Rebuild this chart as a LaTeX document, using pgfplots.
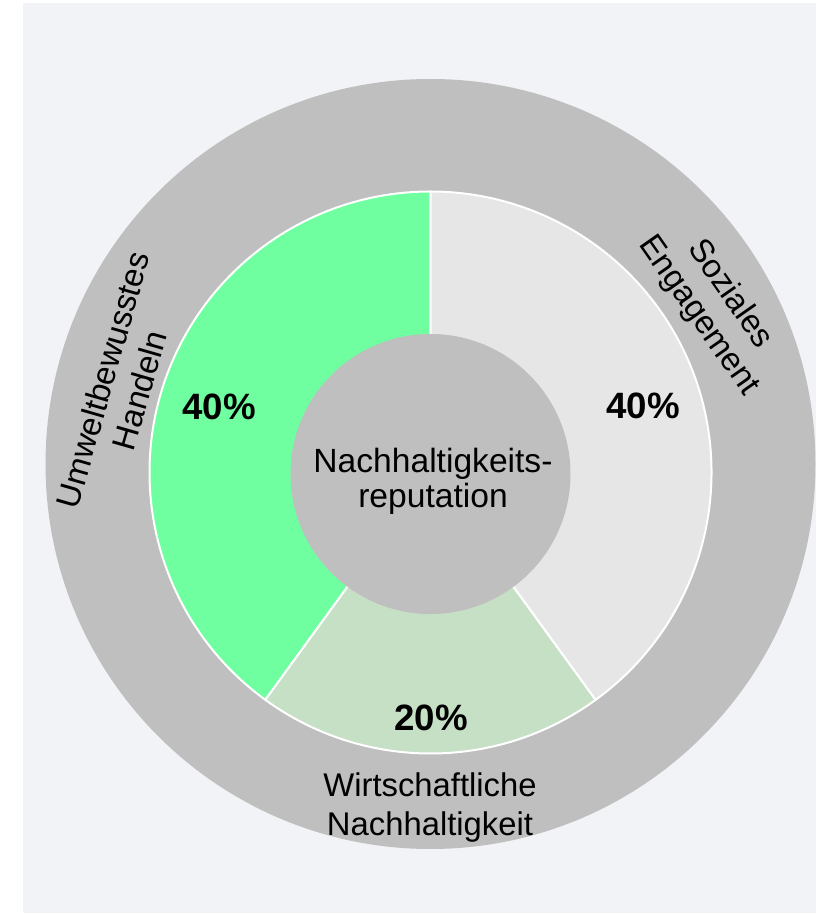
\documentclass[border=0pt]{standalone}
\usepackage{pgfplots}
\pgfplotsset{compat=1.18}
\usepackage{pgfplotstable}
\usepackage{fontspec}
\setmainfont{Liberation Sans}
\definecolor{bgc}{HTML}{F2F3F7}
\definecolor{ringc}{HTML}{BFBFBF}
\definecolor{cgreen}{HTML}{70FFA0}
\definecolor{clgreen}{HTML}{C6E0C6}
\definecolor{cgray}{HTML}{E6E6E6}

\pgfplotstableread{
segment value
Umwelt 40
Wirtschaft 20
Sozial 40
}\piedata

\begin{document}
\begin{tikzpicture}
\pgfplotstablegetelem{0}{value}\of\piedata \pgfmathsetmacro{\va}{\pgfplotsretval}
\pgfplotstablegetelem{1}{value}\of\piedata \pgfmathsetmacro{\vb}{\pgfplotsretval}
\pgfplotstablegetelem{2}{value}\of\piedata \pgfmathsetmacro{\vc}{\pgfplotsretval}
\pgfmathsetmacro{\tot}{\va+\vb+\vc}
\pgfmathsetmacro{\aA}{90}
\pgfmathsetmacro{\aB}{\aA+360*\va/\tot}
\pgfmathsetmacro{\aC}{\aB+360*\vb/\tot}
\pgfmathsetmacro{\aD}{\aC+360*\vc/\tot}
\def\cx{430.5}\def\cy{442.5}
\def\rin{281}
\pgfmathsetmacro{\rpt}{\rin*0.75}
\begin{axis}[width=612pt,height=686.25pt,scale only axis,
  xmin=0,xmax=816,ymin=0,ymax=915,hide axis,clip=false]
\fill[white] (axis cs:0,0) rectangle (axis cs:816,915);
\fill[bgc] (axis cs:23,2) rectangle (axis cs:816,912);
\fill[ringc] (axis cs:430.5,451) circle[radius=288.75pt];
% pie segments
\filldraw[fill=cgreen,draw=white,line width=1.5pt,line join=round]
  (axis cs:\cx,\cy) -- (axis cs:{\cx+\rin*cos(\aA)},{\cy+\rin*sin(\aA)})
  arc[start angle=\aA,end angle=\aB,radius=\rpt pt] -- cycle;
\filldraw[fill=clgreen,draw=white,line width=1.5pt,line join=round]
  (axis cs:\cx,\cy) -- (axis cs:{\cx+\rin*cos(\aB)},{\cy+\rin*sin(\aB)})
  arc[start angle=\aB,end angle=\aC,radius=\rpt pt] -- cycle;
\filldraw[fill=cgray,draw=white,line width=1.5pt,line join=round]
  (axis cs:\cx,\cy) -- (axis cs:{\cx+\rin*cos(\aC)},{\cy+\rin*sin(\aC)})
  arc[start angle=\aC,end angle=\aD,radius=\rpt pt] -- cycle;
\fill[ringc] (axis cs:\cx,441) circle[radius=105pt];
% texts
\node[anchor=base,font=\fontsize{25.2}{29}\selectfont] at (axis cs:433,442) {Nachhaltigkeits-};
\node[anchor=base,font=\fontsize{25.2}{29}\selectfont] at (axis cs:433,407) {reputation};
\node[anchor=base,font=\bfseries\fontsize{27.5}{32}\selectfont] at (axis cs:219,495) {40\%};
\node[anchor=base,font=\bfseries\fontsize{27.5}{32}\selectfont] at (axis cs:643,496) {40\%};
\node[anchor=base,font=\bfseries\fontsize{27.5}{32}\selectfont] at (axis cs:431,184) {20\%};
\node[anchor=base,font=\fontsize{24.6}{28}\selectfont] at (axis cs:430,118) {Wirtschaftliche};
\node[anchor=base,font=\fontsize{24.6}{28}\selectfont] at (axis cs:430,79) {Nachhaltigkeit};
\node[rotate=74,align=center,font=\fontsize{24.6}{28.5}\selectfont] at (axis cs:121,530) {Umweltbewusstes\\Handeln};
\node[rotate=-55,align=center,font=\fontsize{24.6}{28.5}\selectfont] at (axis cs:714,610) {Soziales\\Engagement};
\end{axis}
\end{tikzpicture}
\end{document}
